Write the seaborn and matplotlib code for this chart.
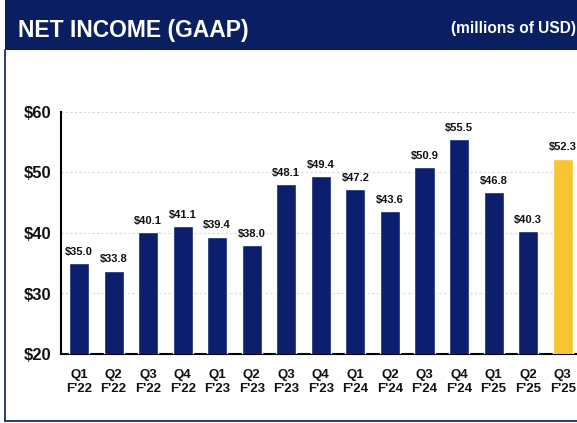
import matplotlib
matplotlib.use("Agg")
import matplotlib.pyplot as plt
import seaborn as sns
import pandas as pd
from matplotlib.patches import Rectangle
from matplotlib.lines import Line2D

quarters = ["Q1\nF'22", "Q2\nF'22", "Q3\nF'22", "Q4\nF'22", "Q1\nF'23", "Q2\nF'23", "Q3\nF'23",
            "Q4\nF'23", "Q1\nF'24", "Q2\nF'24", "Q3\nF'24", "Q4\nF'24", "Q1\nF'25", "Q2\nF'25", "Q3\nF'25"]
net_income = [35.0, 33.8, 40.1, 41.1, 39.4, 38.0, 48.1, 49.4, 47.2, 43.6, 50.9, 55.5, 46.8, 40.3, 52.3]
y_ticks = [20, 30, 40, 50, 60]

NAVY = "#0B1F6E"
HEADER = "#0A1E62"
GOLD = "#F8C430"

sns.set_theme(style="white")
plt.rcParams['font.family'] = ['Liberation Sans', 'DejaVu Sans']

fig = plt.figure(figsize=(5.77, 4.23), dpi=100)
W, H = 577, 423

# header band and frame
fig.patches.append(Rectangle((5 / W, 1 - 50 / H), 1, 50 / H, transform=fig.transFigure,
                             facecolor=HEADER, edgecolor="none", zorder=0))
fig.lines.append(Line2D([5 / W, 5 / W], [1 - 50 / H, 1 - 421 / H], transform=fig.transFigure,
                        color="#1A2B70", lw=1.3))
fig.lines.append(Line2D([5 / W, 1], [1 - 421 / H, 1 - 421 / H], transform=fig.transFigure,
                        color="#1A2B70", lw=1.3))
fig.text(18 / W, 1 - 30 / H, "NET INCOME (GAAP)", color="white", fontsize=16.5,
         fontweight="bold", va="center", ha="left")
fig.text(576 / W, 1 - 29 / H, "(millions of USD)", color="white", fontsize=11.2,
         fontweight="bold", va="center", ha="right")

ax = fig.add_axes([61 / W, 69 / H, 519 / W, 242 / H])
df = pd.DataFrame({"quarter": quarters, "value": net_income})
colors = [NAVY] * (len(quarters) - 1) + [GOLD]
sns.barplot(data=df, x="quarter", y="value", hue="quarter", palette=colors, legend=False,
            width=0.58, ax=ax, saturation=1, zorder=3)

for i, v in enumerate(net_income):
    ax.annotate(f"${v:.1f}", (i, v), xytext=(0, 4.5), textcoords="offset points",
                ha="center", va="bottom", fontsize=8, fontweight="bold", color="#111111")

ax.set_ylim(20, 60)
ax.set_xlim(-0.52, len(quarters) - 0.5)
ax.set_yticks(y_ticks)
ax.set_yticklabels([f"${t}" for t in y_ticks], fontsize=12, fontweight="bold")
ax.set_xticks(range(len(quarters)))
ax.set_xticklabels(quarters, fontsize=9.5, fontweight="bold", linespacing=1.15)
ax.set_xticks([i + 0.5 for i in range(len(quarters))], minor=True)
ax.tick_params(axis="x", which="major", length=0, pad=11)
ax.tick_params(axis="x", which="minor", length=4, width=1.3, direction="out", color="black")
ax.tick_params(axis="y", length=4, width=1.3, direction="out", color="black", pad=3)
ax.set_xlabel("")
ax.set_ylabel("")
for t in ax.get_xticklabels() + ax.get_yticklabels():
    t.set_color("#111111")

ax.grid(axis="y", color="#D8D8D8", linestyle=(0, (2, 2)), lw=0.8, zorder=0)
ax.set_axisbelow(True)
for s in ["top", "right"]:
    ax.spines[s].set_visible(False)
for s in ["left", "bottom"]:
    ax.spines[s].set_color("black")
    ax.spines[s].set_linewidth(1.5)

fig.savefig("out.png", dpi=100)
